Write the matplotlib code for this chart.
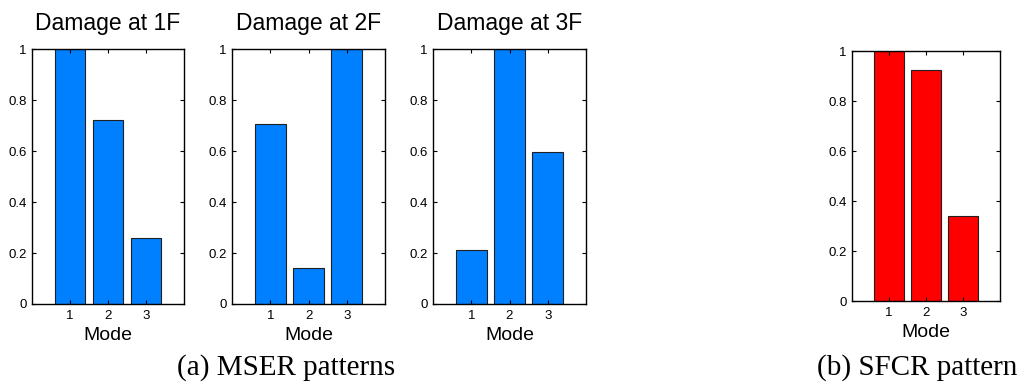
import numpy as np
import matplotlib
matplotlib.use("Agg")
import matplotlib.pyplot as plt

modes = [1, 2, 3]
titles = ["Damage at 1F", "Damage at 2F", "Damage at 3F"]
mser_1f = [1.0, 0.72, 0.26]
mser_2f = [0.707, 0.143, 1.0]
mser_3f = [0.213, 1.0, 0.595]
sfcr = [1.0, 0.923, 0.341]
y_ticks = [0, 0.2, 0.4, 0.6, 0.8, 1.0]
y_tick_labels = ["0", "0.2", "0.4", "0.6", "0.8", "1"]

W, H = 1027, 387
fig = plt.figure(figsize=(W / 100, H / 100), dpi=100)
plt.rcParams["font.family"] = ["Liberation Sans", "DejaVu Sans"]


def px_axes(x0, y0, x1, y1):
    # pixel box (top-left origin) -> figure fraction
    return fig.add_axes([x0 / W, 1 - y1 / H, (x1 - x0) / W, (y1 - y0) / H])


def bar_panel(ax, vals, color, title=None):
    ax.bar(modes, vals, width=0.8, color=color, edgecolor="#202020", linewidth=0.8)
    ax.set_xlim(0, 4)
    ax.set_ylim(0, 1)
    ax.set_xticks(modes)
    ax.set_yticks(y_ticks)
    ax.set_yticklabels(y_tick_labels)
    ax.tick_params(direction="in", top=True, right=True, length=3,
                   labelsize=9.5, width=0.8, pad=4)
    for s in ax.spines.values():
        s.set_linewidth(1.0)
    ax.set_xlabel("Mode", fontsize=14, labelpad=4)
    if title:
        ax.set_title(title, fontsize=16.5, pad=14)


blue = "#0080ff"
red = "#ff0000"
boxes = [(32, 49, 184, 304), (232, 49, 385, 304), (433, 49, 586, 304)]
for (b, vals, t) in zip(boxes, [mser_1f, mser_2f, mser_3f], titles):
    bar_panel(px_axes(*b), vals, blue, t)

bar_panel(px_axes(852, 51, 1000, 301), sfcr, red)

fig.text(286 / W, 1 - 368 / H, "(a) MSER patterns", ha="center", va="center",
         fontsize=21, family=["Liberation Serif", "DejaVu Serif"])
fig.text(917 / W, 1 - 368 / H, "(b) SFCR pattern", ha="center", va="center",
         fontsize=21, family=["Liberation Serif", "DejaVu Serif"])

fig.savefig("out.png", dpi=100)
